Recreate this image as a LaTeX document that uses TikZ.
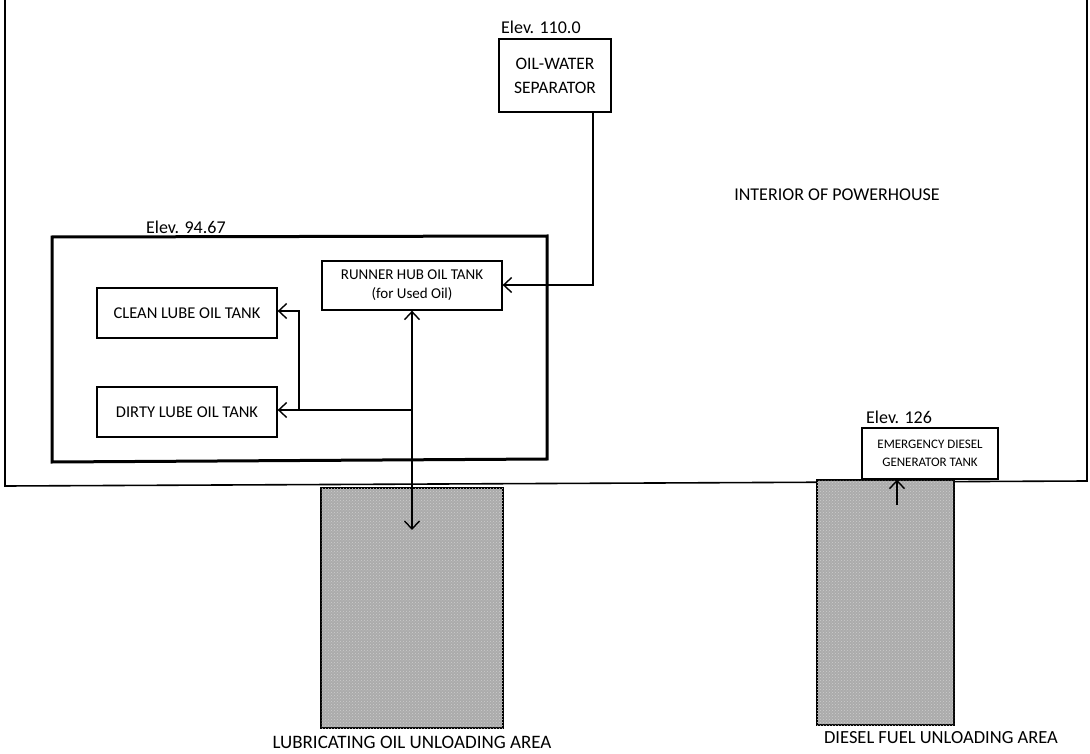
\documentclass[tikz,border=0pt]{standalone}
\usepackage{fontspec}
\setmainfont{Carlito}
\usetikzlibrary{arrows.meta,patterns}
\begin{document}
\begin{tikzpicture}[x=1pt,y=-1pt,
  tbox/.style={draw, line width=1.3pt, inner sep=0pt, align=center},
  lbl/.style={inner sep=0pt},
  conn/.style={line width=1.3pt, arrows={-Straight Barb[length=8pt,width=15pt,line width=1.4pt]}},
  conn2/.style={line width=1.3pt, arrows={Straight Barb[length=8pt,width=15pt,line width=1.4pt]-Straight Barb[length=8pt,width=15pt,line width=1.4pt]}},
  area/.style={draw, line width=1.3pt, fill=black!33, postaction={pattern=crosshatch dots, pattern color=white!80!black}, inner sep=0pt}]
\useasboundingbox (0,0) rectangle (1090,754);
% outer powerhouse box (top beyond picture)
\draw[line width=1.6pt] (5,-2) -- (5,486) -- (1087,481) -- (1087,-2);
% thick elevation box
\draw[line width=3pt] (52,237) -- (547,236) -- (547,459) -- (52,462) -- cycle;
% labels
\node[lbl, anchor=west, font=\fontsize{18}{20}\selectfont] (e110) at (501,27) {Elev. 110.0};
\node[lbl, anchor=west, font=\fontsize{18}{20}\selectfont] (e94) at (146,227) {Elev. 94.67};
\node[lbl, anchor=west, font=\fontsize{18}{20}\selectfont] (e126) at (866,417) {Elev. 126};
\node[lbl, font=\fontsize{18}{20}\selectfont] (intr) at (837,195) {INTERIOR OF POWERHOUSE};
% boxes
\node[tbox, minimum width=112pt, minimum height=73pt, font=\fontsize{17.5}{24}\selectfont] (sep) at (555,75.5) {OIL-WATER\\SEPARATOR};
\node[tbox, minimum width=180pt, minimum height=49pt, font=\fontsize{15}{19}\selectfont] (hub) at (412,285.5) {RUNNER HUB OIL TANK\\(for Used Oil)};
\node[tbox, minimum width=180pt, minimum height=50pt, font=\fontsize{16.5}{20}\selectfont] (clean) at (187,313) {CLEAN LUBE OIL TANK};
\node[tbox, minimum width=180pt, minimum height=50pt, font=\fontsize{16.5}{20}\selectfont] (dirty) at (187,412) {DIRTY LUBE OIL TANK};
\node[tbox, minimum width=136pt, minimum height=51pt, font=\fontsize{13}{18}\selectfont] (edg) at (930,453.5) {EMERGENCY DIESEL\\GENERATOR TANK};
% unloading areas
\node[area, minimum width=182pt, minimum height=240pt] (lub) at (412,608) {};
\node[area, minimum width=137pt, minimum height=245pt] (dsl) at (885.5,602.5) {};
\node[lbl, font=\fontsize{19}{21}\selectfont] (lubt) at (412,742) {LUBRICATING OIL UNLOADING AREA};
\node[lbl, font=\fontsize{18.5}{21}\selectfont] (dslt) at (941,738) {DIESEL FUEL UNLOADING AREA};
% connectors
\coordinate (c1) at (593,285);
\draw[conn] (sep.south -| c1) -- (c1) -- (hub.east |- c1);
\coordinate (l1) at (412,530);
\draw[conn2] (hub.south) -- (l1);
\coordinate (j1) at (412,410);
\coordinate (j2) at (299,410);
\coordinate (j3) at (299,311);
\draw[conn] (j1) -- (j1 -| dirty.east);
\draw[conn] (j2) -- (j3) -- (j3 -| clean.east);
\coordinate (d1) at (897,505);
\draw[conn] (d1) -- (d1 |- edg.south);
\end{tikzpicture}
\end{document}
